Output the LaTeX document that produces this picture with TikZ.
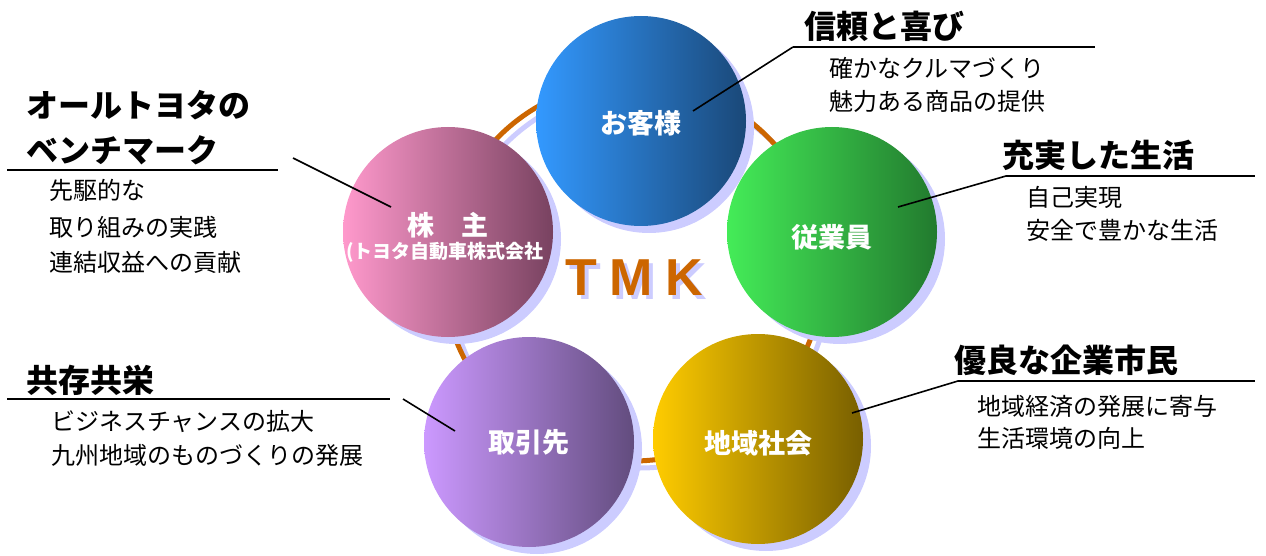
\documentclass[tikz,border=0pt]{standalone}
\usepackage{fontspec}
\newfontfamily\jp{Noto Sans CJK JP}
\newfontfamily\arialf{Liberation Sans}
\definecolor{lav}{RGB}{204,204,255}
\definecolor{tmkor}{RGB}{204,102,0}
\definecolor{bluL}{RGB}{51,153,255}\definecolor{bluR}{RGB}{26,72,120}
\definecolor{pnkL}{RGB}{255,153,204}\definecolor{pnkR}{RGB}{120,66,96}
\definecolor{grnL}{RGB}{68,236,88}\definecolor{grnR}{RGB}{34,122,46}
\definecolor{purL}{RGB}{204,153,255}\definecolor{purR}{RGB}{98,76,126}
\definecolor{yelL}{RGB}{255,204,0}\definecolor{yelR}{RGB}{120,95,0}
\begin{document}
\begin{tikzpicture}[x=1pt,y=-1pt,
  ring/.style={line width=5pt},
  bubble/.style={circle, minimum size=210pt, inner sep=0pt, text=white, align=center,
    font=\jp\bfseries\fontsize{27}{30}\selectfont},
  heading/.style={anchor=west, inner sep=0pt, font=\jp\bfseries\fontsize{32}{36}\selectfont},
  body/.style={anchor=west, inner sep=0pt, font=\jp\fontsize{24}{28}\selectfont},
  uline/.style={line width=2.2pt},
  leader/.style={line width=1.6pt},
  tmk/.style={anchor=base, inner sep=0pt, font=\arialf\bfseries\fontsize{52}{52}\selectfont}]
\useasboundingbox (0,0) rectangle (1266,556);
% ring and its shadow
\draw[lav, ring] (640,278) circle[radius=190pt];
\draw[tmkor, ring] (633,271) circle[radius=190pt];
% circle shadows
\fill[lav] (649,128) circle[radius=105pt];
\fill[lav] (456,239) circle[radius=105pt];
\fill[lav] (840,239) circle[radius=105pt];
\fill[lav] (537,449) circle[radius=105pt];
\fill[lav] (766,446) circle[radius=105pt];
% circles
\node[bubble, left color=bluL, right color=bluR] (c1) at (641,121) {};
\node[bubble, left color=pnkL, right color=pnkR] (c2) at (448,232) {};
\node[bubble, left color=grnL, right color=grnR] (c3) at (832,232) {};
\node[bubble, left color=purL, right color=purR] (c4) at (529,442) {};
\node[bubble, left color=yelL, right color=yelR] (c5) at (758,439) {};
% circle labels
\node[text=white, font=\jp\bfseries\fontsize{27}{30}\selectfont, inner sep=0pt] (t1) at (641,123) {お客様};
\node[text=white, font=\jp\bfseries\fontsize{27}{30}\selectfont, inner sep=0pt] (t2a) at (448,225) {株　主};
\node[text=white, font=\jp\bfseries\fontsize{19}{22}\selectfont, inner sep=0pt] (t2b) at (445,252) {(トヨタ自動車株式会社};
\node[text=white, font=\jp\bfseries\fontsize{27}{30}\selectfont, inner sep=0pt] (t3) at (832,237) {従業員};
\node[text=white, font=\jp\bfseries\fontsize{27}{30}\selectfont, inner sep=0pt] (t4) at (529,442) {取引先};
\node[text=white, font=\jp\bfseries\fontsize{27}{30}\selectfont, inner sep=0pt] (t5) at (758,443) {地域社会};
% TMK
\node[tmk, text=lav] (sT) at (585,299) {T};
\node[tmk, text=lav] (sM) at (635,299) {M};
\node[tmk, text=lav] (sK) at (688,299) {K};
\node[tmk, text=tmkor] (mT) at (581,295) {T};
\node[tmk, text=tmkor] (mM) at (631,295) {M};
\node[tmk, text=tmkor] (mK) at (684,295) {K};
% anchor coordinates for leaders
\coordinate (p1) at (693,111); \coordinate (q1) at (793,47); \coordinate (r1) at (1095,47);
\coordinate (p3) at (898,207); \coordinate (q3) at (1006,176); \coordinate (r3) at (1255,176);
\coordinate (p5) at (852,413); \coordinate (q5) at (958,381); \coordinate (r5) at (1255,381);
\coordinate (p2) at (391,207); \coordinate (q2) at (293,158);
\coordinate (u2a) at (7,170); \coordinate (u2b) at (278,170);
\coordinate (p4) at (455,431); \coordinate (q4) at (403,399);
\coordinate (u4a) at (7,399); \coordinate (u4b) at (390,399);
\draw[leader] (p1) -- (q1); \draw[uline] (q1) -- (r1);
\draw[leader] (p3) -- (q3); \draw[uline] (q3) -- (r3);
\draw[leader] (p5) -- (q5); \draw[uline] (q5) -- (r5);
\draw[leader] (p2) -- (q2); \draw[uline] (u2a) -- (u2b);
\draw[leader] (p4) -- (q4); \draw[uline] (u4a) -- (u4b);
% headings
\node[heading] (h1) at (804,26) {信頼と喜び};
\node[heading] (h3) at (1002,155) {充実した生活};
\node[heading] (h5) at (954,360) {優良な企業市民};
\node[heading] (h2a) at (26,105) {オールトヨタの};
\node[heading] (h2b) at (26,150) {ベンチマーク};
\node[heading] (h4) at (26,380) {共存共栄};
% bodies
\node[body] (b1a) at (829,68) {確かなクルマづくり};
\node[body] (b1b) at (829,101) {魅力ある商品の提供};
\node[body] (b3a) at (1026,197) {自己実現};
\node[body] (b3b) at (1026,230) {安全で豊かな生活};
\node[body] (b5a) at (977,406) {地域経済の発展に寄与};
\node[body] (b5b) at (977,438) {生活環境の向上};
\node[body] (b2a) at (49,190) {先駆的な};
\node[body] (b2b) at (49,227) {取り組みの実践};
\node[body] (b2c) at (49,262) {連結収益への貢献};
\node[body] (b4a) at (51,422) {ビジネスチャンスの拡大};
\node[body] (b4b) at (51,455) {九州地域のものづくりの発展};
\end{tikzpicture}
\end{document}
